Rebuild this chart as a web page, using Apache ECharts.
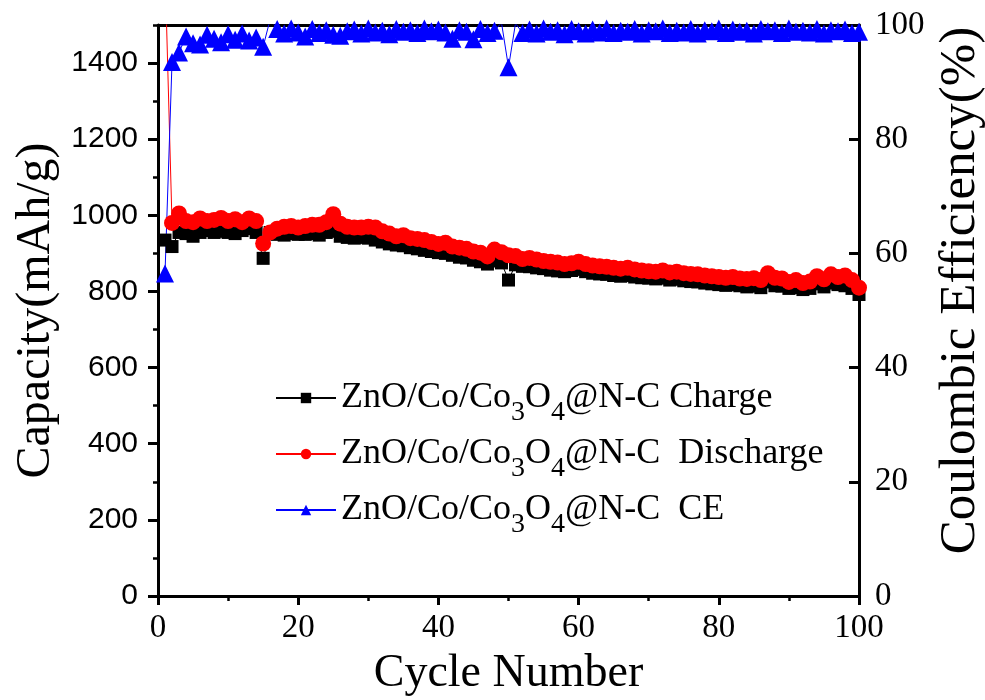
<!DOCTYPE html>
<html>
<head>
<meta charset="utf-8">
<script src="https://cdn.jsdelivr.net/npm/echarts@6/dist/echarts.min.js"></script>
<style>
  html, body { margin: 0; padding: 0; background: #fff; }
  #chart { width: 985px; height: 700px; }
</style>
</head>
<body>
<div id="chart"></div>
<script>
// capacity values, cycle 1..100
const charge = [
  935, 918, 955, 952, 945, 955, 960, 955, 958, 955,
  952, 960, 965, 955, 887, 955, 950, 948, 952, 950,
  950, 952, 948, 955, 958, 945, 942, 940, 942, 940,
  935, 930, 925, 922, 920, 915, 912, 908, 905, 902,
  900, 895, 890, 888, 882, 878, 872, 880, 875, 830,
  870, 866, 865, 862, 860, 856, 854, 852, 855, 858,
  852, 848, 846, 845, 842, 840, 842, 838, 836, 835,
  833, 835, 830, 832, 828, 826, 825, 822, 820, 818,
  816, 818, 815, 812, 814, 810, 825, 815, 814, 808,
  810, 805, 808, 820, 812, 822, 818, 815, 808, 792
];
const discharge = [
  1650, 980, 1005, 985, 982, 992, 985, 988, 993, 985,
  990, 982, 992, 985, 926, 955, 965, 970, 972, 968,
  972, 975, 975, 982, 1003, 978, 970, 968, 968, 970,
  968, 958, 952, 945, 948, 940, 938, 935, 930, 925,
  928, 918, 915, 912, 905, 902, 892, 910, 903, 895,
  893, 885, 888, 884, 880, 878, 876, 872, 874, 878,
  872, 868, 866, 865, 862, 860, 862, 858, 855, 853,
  852, 855, 850, 852, 848, 846, 845, 842, 840, 838,
  836, 838, 834, 833, 835, 830, 848, 836, 834, 825,
  830, 822, 826, 840, 832, 845, 838, 842, 830, 810
];
const efficiency = [
  56.5, 93.5, 95.2, 98.0, 96.8, 96.6, 98.3, 97.6, 97.0, 98.4,
  97.4, 98.5, 97.3, 97.8, 96.2, 101.0, 99.3, 98.5, 99.4, 98.7,
  98.0, 99.3, 98.6, 99.1, 98.3, 98.1, 98.9, 99.2, 98.5, 99.4,
  98.7, 99.0, 98.4, 99.3, 98.8, 99.1, 98.6, 99.4, 98.9, 99.2,
  98.7, 97.6, 99.1, 98.8, 97.5, 99.3, 98.6, 99.0, 100.4, 92.6,
  100.3, 98.6, 99.2, 98.5, 99.4, 98.8, 99.1, 98.4, 99.3, 98.9,
  98.5, 99.2, 98.7, 99.4, 98.6, 99.0, 98.8, 99.3, 98.5, 99.1,
  98.9, 99.4, 98.6, 99.0, 98.7, 99.3, 98.5, 99.1, 98.9, 99.4,
  98.6, 99.2, 98.8, 99.0, 98.5, 99.3, 98.9, 99.1, 98.6, 99.4,
  98.8, 99.0, 98.7, 99.3, 98.5, 99.1, 98.9, 99.2, 98.6, 98.8
];
const leftTicks = [0, 200, 400, 600, 800, 1000, 1200, 1400];
const seriesNames = [
  'ZnO/Co/Co3O4@N-C Charge',
  'ZnO/Co/Co3O4@N-C  Discharge',
  'ZnO/Co/Co3O4@N-C  CE'
];

const pairs = arr => arr.map((v, i) => [i + 1, v]);
const serif = 'Liberation Serif';
const black = '#000';

let myChart = echarts.init(document.getElementById('chart'));

const minorAxis = (pos, inside) => ({
  type: 'value', position: pos, min: 0, max: 1500, interval: 100,
  axisLine: { show: false },
  axisTick: { show: true, inside: inside, length: 5, lineStyle: { color: black, width: 2.5 } },
  axisLabel: { show: false },
  splitLine: { show: false }
});

myChart.setOption({
  backgroundColor: '#fff',
  animation: false,
  grid: { left: 158, right: 126, top: 25, bottom: 104, outerBoundsMode: 'none' },
  legend: {
    orient: 'vertical',
    left: 270,
    top: 364,
    itemWidth: 60,
    itemHeight: 13,
    itemGap: -2,
    data: seriesNames,
    formatter: name => name.replace('Co3O4', 'Co{s|3}O{s|4}'),
    textStyle: {
      fontFamily: serif, fontSize: 36, color: black, lineHeight: 40,
      rich: {
        // subscript: pushed down with top padding
        s: { fontFamily: serif, fontSize: 28, color: black, lineHeight: 10, padding: [30, 0, 0, 0] }
      }
    }
  },
  xAxis: [{
    type: 'value', min: 0, max: 100, interval: 20,
    name: 'Cycle Number', nameLocation: 'middle', nameGap: 55,
    nameTextStyle: { fontFamily: serif, fontSize: 46, color: black },
    axisLine: { onZero: false, lineStyle: { color: black, width: 3 } },
    axisTick: { length: 9, lineStyle: { color: black, width: 3 } },
    minorTick: { show: true, splitNumber: 2, length: 5, lineStyle: { color: black, width: 2.5 } },
    axisLabel: { fontFamily: serif, fontSize: 33, color: black, margin: 16 },
    splitLine: { show: false }
  }, {
    type: 'value', position: 'top', min: 0, max: 100,
    axisLine: { onZero: false, lineStyle: { color: black, width: 3 } },
    axisTick: { show: false }, axisLabel: { show: false }, splitLine: { show: false }
  }],
  yAxis: [{
    type: 'value', position: 'left', min: 0, max: 1500, interval: 100,
    name: 'Capacity(mAh/g)', nameLocation: 'middle', nameGap: 96,
    nameTextStyle: { fontFamily: serif, fontSize: 48, color: black },
    axisLine: { show: true, onZero: false, lineStyle: { color: black, width: 3 } },
    axisTick: { show: true, customValues: leftTicks, length: 10, lineStyle: { color: black, width: 3 } },
    axisLabel: {
      customValues: leftTicks, formatter: v => String(v),
      fontFamily: 'Liberation Sans', fontSize: 30, color: black, margin: 20
    },
    splitLine: { show: false }
  }, {
    type: 'value', position: 'right', min: 0, max: 100, interval: 20,
    name: 'Coulombic Efficiency(%)', nameLocation: 'middle', nameGap: 74,
    nameTextStyle: { fontFamily: serif, fontSize: 51, color: black, padding: [0, 0, 0, 40] },
    axisLine: { show: true, onZero: false, lineStyle: { color: black, width: 3 } },
    axisTick: { show: true, inside: true, length: 10, lineStyle: { color: black, width: 3 } },
    axisLabel: { fontFamily: serif, fontSize: 33, color: black, margin: 16 },
    splitLine: { show: false }
  }, minorAxis('left', false), minorAxis('right', true)],
  series: [{
    name: seriesNames[0], type: 'line', data: pairs(charge),
    symbol: 'rect', symbolSize: 13, color: black,
    lineStyle: { width: 1, color: black }, itemStyle: { color: black }
  }, {
    name: seriesNames[1], type: 'line', data: pairs(discharge),
    symbol: 'circle', symbolSize: 16, color: '#ff0000',
    lineStyle: { width: 1, color: '#ff0000' }, itemStyle: { color: '#ff0000' }
  }, {
    name: seriesNames[2], type: 'line', yAxisIndex: 1, data: pairs(efficiency),
    symbol: 'triangle', symbolSize: 18, color: '#0000ff',
    lineStyle: { width: 1, color: '#0000ff' }, itemStyle: { color: '#0000ff' }
  }]
});
</script>
</body>
</html>
